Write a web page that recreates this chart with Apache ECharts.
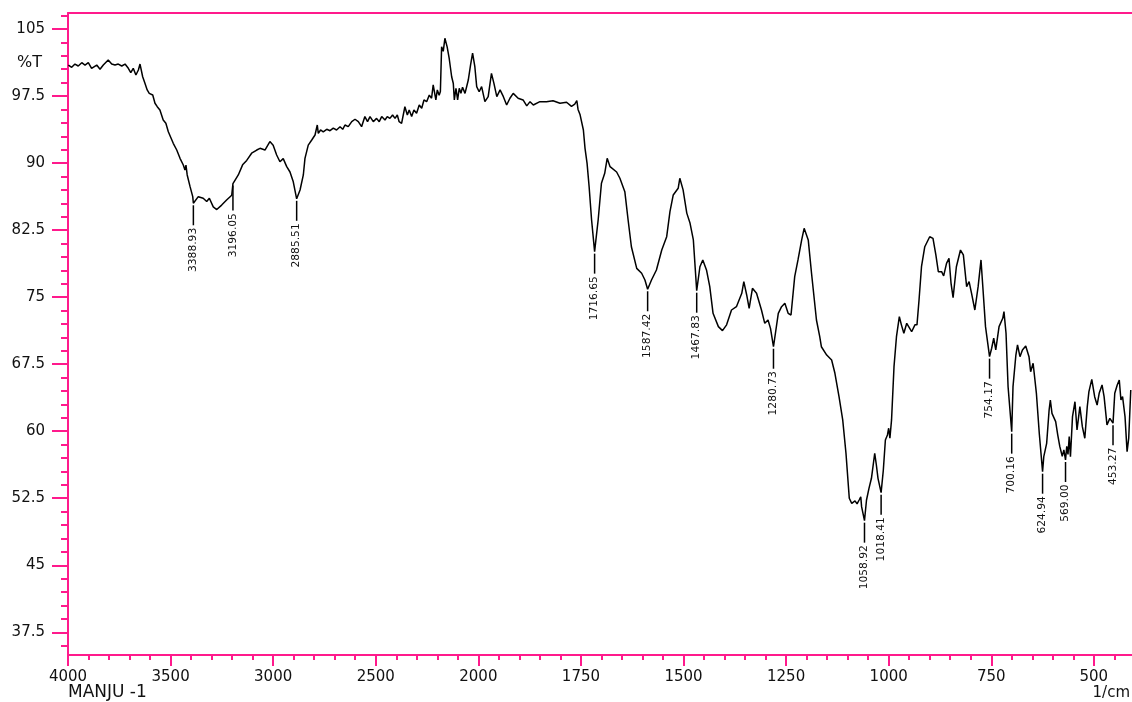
<!DOCTYPE html>
<html>
<head>
<meta charset="utf-8">
<script src="https://cdn.jsdelivr.net/npm/echarts@6/dist/echarts.min.js"></script>
<style>
html, body { margin: 0; padding: 0; background: #fff; }
#chart { width: 1132px; height: 702px; }
</style>
</head>
<body>
<div id="chart"></div>
<script>
// FTIR transmittance spectrum of sample MANJU -1

// Spectrum: wavenumber (1/cm) and %T
const wavenumbers = [
  3998, 3982, 3966, 3950, 3933, 3917, 3901, 3885, 3877, 3860, 3844, 3828, 3804, 3787, 3771, 3755,
  3738, 3722, 3706, 3694, 3682, 3669, 3657, 3649, 3636, 3625, 3614, 3604, 3597, 3587, 3576, 3565,
  3552, 3536, 3523, 3511, 3503, 3487, 3470, 3454, 3438, 3430, 3425, 3419, 3405, 3392, 3388.93, 3365,
  3341, 3324, 3311, 3292, 3275, 3251, 3227, 3202, 3196.05, 3170, 3149, 3129, 3105, 3080, 3064, 3040,
  3016, 3000, 2983, 2967, 2951, 2934, 2918, 2902, 2885.51, 2869, 2853, 2845, 2829, 2812, 2796, 2785,
  2780, 2769, 2756, 2739, 2723, 2707, 2691, 2674, 2661, 2650, 2634, 2617, 2601, 2585, 2569, 2553,
  2540, 2528, 2512, 2496, 2483, 2471, 2455, 2444, 2431, 2418, 2406, 2395, 2386, 2374, 2358, 2346,
  2337, 2325, 2314, 2301, 2288, 2276, 2265, 2252, 2239, 2228, 2220, 2207, 2200, 2191, 2185, 2179,
  2171, 2163, 2152, 2142, 2130, 2122, 2117, 2109, 2101, 2093, 2085, 2077, 2065, 2049, 2038, 2028,
  2017, 2008, 1998, 1992, 1984, 1976, 1968, 1962, 1955, 1947, 1939, 1931, 1923, 1915, 1903, 1891,
  1882, 1874, 1866, 1850, 1834, 1818, 1801, 1785, 1773, 1765, 1760, 1757, 1752, 1744, 1740, 1735,
  1730, 1724, 1716.65, 1708, 1700, 1692, 1686, 1679, 1663, 1655, 1643, 1635, 1627, 1614, 1602, 1594,
  1587.42, 1578, 1566, 1553, 1541, 1533, 1525, 1513, 1509, 1501, 1492, 1484, 1476, 1467.83, 1460, 1453,
  1444, 1436, 1428, 1415, 1405, 1395, 1383, 1371, 1358, 1353, 1346, 1340, 1332, 1322, 1310, 1302,
  1294, 1288, 1280.73, 1269, 1261, 1253, 1245, 1238, 1229, 1221, 1212, 1206, 1196, 1188, 1176, 1168,
  1164, 1151, 1139, 1131, 1121, 1112, 1104, 1096, 1090, 1082, 1077, 1072, 1068, 1066, 1058.92, 1054,
  1048, 1042, 1034, 1030, 1026, 1018.41, 1013, 1008, 1003, 1000, 997, 993, 987, 981, 974, 969,
  963, 956, 952, 944, 936, 931, 926, 920, 912, 900, 892, 885, 879, 871, 866, 859,
  853, 848, 843, 835, 825, 818, 810, 804, 798, 790, 782, 775, 770, 764, 754.17, 749,
  744, 739, 731, 722, 719, 714, 709, 700.16, 697, 690, 686, 680, 674, 666, 658, 654,
  648, 640, 633, 624.94, 622, 615, 609, 606, 602, 593, 588, 583, 577, 573, 569, 566,
  563, 560, 557, 552, 546, 541, 534, 528, 522, 516, 512, 505, 498, 492, 487, 480,
  475, 468, 461, 453.27, 449, 443, 438, 434, 430, 424, 419, 415, 410
];
const transmittance = [
  100.97, 100.71, 101.08, 100.86, 101.23, 100.97, 101.23, 100.6, 100.41, 100.97, 100.49, 100.97, 101.53, 101.08, 100.97, 101.08,
  100.86, 101.08, 100.6, 100.11, 100.6, 99.85, 100.41, 101.08, 99.66, 98.92, 98.18, 97.8, 97.99, 97.62, 96.69, 96.31,
  95.94, 94.82, 94.45, 93.51, 93.33, 92.21, 91.46, 90.53, 89.78, 89.22, 89.78, 88.67, 87.36, 86.24, 85.5, 86.24,
  86.06, 85.7, 86.06, 85.1, 84.8, 85.3, 85.87, 86.4, 87.7, 88.67, 89.8, 90.3, 91.1, 91.46, 91.65, 91.46,
  92.4, 92.0, 90.9, 90.15, 90.5, 89.6, 89.0, 87.9, 86.0, 86.99, 88.67, 90.53, 92.0, 92.58, 93.14, 94.26,
  93.33, 93.7, 93.5, 93.78, 93.62, 93.9, 93.7, 94.07, 93.78, 94.26, 94.07, 94.63, 94.9, 94.63, 94.07, 95.2,
  94.63, 95.2, 94.63, 95.0, 94.63, 95.2, 94.82, 95.2, 95.0, 95.38, 95.0, 95.38, 94.63, 94.45, 96.3, 95.38,
  95.94, 95.2, 95.94, 95.57, 96.5, 96.13, 97.06, 96.87, 97.6, 97.25, 98.74, 97.06, 98.18, 97.6, 98.0, 103.0,
  102.5, 103.96, 103.0, 101.7, 99.66, 98.9, 97.06, 98.37, 97.06, 98.37, 97.8, 98.48, 97.8, 99.29, 100.97, 102.3,
  100.78, 98.55, 97.98, 98.55, 96.87, 97.43, 100.04, 98.92, 97.43, 98.18, 97.43, 96.5, 97.25, 97.8, 97.25, 97.06,
  96.4, 96.87, 96.5, 96.87, 96.87, 96.98, 96.7, 96.8, 96.35, 96.6, 97.0, 96.0, 95.4, 93.7, 91.65, 89.97,
  87.35, 83.63, 80.09, 83.63, 87.74, 88.86, 90.53, 89.6, 89.0, 88.3, 86.8, 83.63, 80.64, 78.22, 77.67, 76.92,
  75.88, 76.92, 78.04, 80.27, 81.76, 84.56, 86.43, 87.18, 88.3, 87.0, 84.4, 83.26, 81.4, 75.72, 78.4, 79.16,
  78.04, 76.17, 73.19, 71.7, 71.25, 71.9, 73.56, 73.93, 75.43, 76.73, 75.24, 73.75, 75.99, 75.43, 73.56, 72.07,
  72.44, 71.5, 69.45, 73.19, 73.93, 74.31, 73.19, 73.0, 77.3, 79.16, 81.4, 82.7, 81.4, 77.67, 72.44, 70.57,
  69.45, 68.52, 67.97, 66.48, 63.86, 61.26, 57.5, 52.5, 51.93, 52.2, 51.86, 52.3, 52.67, 51.56, 49.99, 52.3,
  53.6, 54.73, 57.53, 56.22, 54.73, 53.12, 55.66, 59.02, 59.58, 60.33, 59.21, 61.26, 67.22, 70.57, 72.81, 71.9,
  70.96, 72.07, 72.25, 71.13, 71.9, 71.9, 74.68, 78.4, 80.64, 81.76, 81.57, 79.72, 77.85, 77.85, 77.37, 78.78,
  79.34, 76.55, 74.94, 78.4, 80.27, 79.72, 76.17, 76.73, 75.43, 73.56, 76.17, 79.16, 75.8, 71.7, 68.34, 69.28,
  70.4, 69.09, 71.7, 72.63, 73.38, 70.96, 64.98, 59.95, 64.98, 68.52, 69.65, 68.34, 69.09, 69.53, 68.34, 66.66,
  67.6, 64.24, 59.77, 55.47, 57.15, 58.64, 62.37, 63.49, 62.0, 61.07, 59.6, 58.3, 57.2, 57.9, 56.78, 58.3,
  57.4, 59.4, 57.15, 61.63, 63.3, 60.14, 62.75, 60.51, 59.21, 62.75, 64.42, 65.8, 63.86, 62.93, 64.24, 65.17,
  63.86, 60.7, 61.44, 60.9, 64.24, 65.17, 65.73, 63.49, 63.86, 61.63, 57.71, 59.21, 64.61
];

// Labelled band positions and their %T
const peakWavenumbers = [3388.93, 3196.05, 2885.51, 1716.65, 1587.42, 1467.83, 1280.73, 1058.92, 1018.41, 754.17, 700.16, 624.94, 569.00, 453.27];
const peakTransmittance = [85.5, 87.7, 86.0, 80.09, 75.88, 75.72, 69.45, 49.99, 53.12, 68.34, 59.95, 55.47, 56.78, 60.9];

// Axis ticks
const xMajorTicks = [500, 750, 1000, 1250, 1500, 1750, 2000, 2500, 3000, 3500, 4000];
const yMajorTicks = [37.5, 45, 52.5, 60, 67.5, 75, 82.5, 90, 97.5, 105];

const xMinorTicks = [];
for (let w = 450; w < 2000; w += 50) if (w % 250 !== 0) xMinorTicks.push(w);
for (let w = 2100; w < 4000; w += 100) if (w % 500 !== 0) xMinorTicks.push(w);
const yMinorTicks = [];
for (let k = 24; k <= 71; k++) if (k % 5 !== 0) yMinorTicks.push(k * 1.5);

// Above 2000 1/cm the axis runs at half scale, so it is drawn in a folded coordinate
function fold(wn) { return wn <= 2000 ? wn : 2000 + (wn - 2000) / 2; }
function unfold(u) { return u <= 2000 ? u : 2000 + (u - 2000) * 2; }

const X_MIN = 407, X_MAX = 3000;
const Y_MIN = 34.96, Y_MAX = 106.79;
const PINK = '#ff1a8c';
const FONT = '"DejaVu Sans", Verdana, sans-serif';
const INK = '#111';

// Label stems: the 3196.05 shoulder gets a slightly longer stem
const STEM_TOP = 2, STEM_BOTTOM = 22, TEXT_GAP = 2.5;
const longStem = { '3196.05': 5 };

function xAxisBase(extra) {
  return Object.assign({
    type: 'value', min: X_MIN, max: X_MAX, inverse: true, position: 'bottom',
    axisLine: { show: false, onZero: false },
    axisTick: { show: false },
    axisLabel: { show: false },
    splitLine: { show: false }
  }, extra);
}
function yAxisBase(extra) {
  return Object.assign({
    type: 'value', min: Y_MIN, max: Y_MAX, position: 'left',
    axisLine: { show: false, onZero: false },
    axisTick: { show: false },
    axisLabel: { show: false },
    splitLine: { show: false }
  }, extra);
}

const chart = echarts.init(document.getElementById('chart'), null, { renderer: 'canvas' });

chart.setOption({
  animation: false,
  backgroundColor: '#fff',
  grid: { left: 68, right: 0, top: 13, bottom: 47, containLabel: false, outerBoundsMode: 'none' },
  xAxis: [
    xAxisBase({
      axisLine: { show: true, onZero: false, lineStyle: { color: PINK, width: 2 } },
      axisTick: { show: true, length: 11, lineStyle: { color: PINK, width: 2 }, customValues: xMajorTicks.map(fold) },
      axisLabel: {
        show: true, margin: 15, customValues: xMajorTicks.map(fold),
        formatter: v => String(Math.round(unfold(v))),
        fontFamily: FONT, fontSize: 15, color: INK
      }
    }),
    xAxisBase({
      axisTick: { show: true, length: 5, lineStyle: { color: PINK, width: 2 }, customValues: xMinorTicks.map(fold) }
    }),
    xAxisBase({
      position: 'top',
      axisLine: { show: true, onZero: false, lineStyle: { color: PINK, width: 2 } }
    })
  ],
  yAxis: [
    yAxisBase({
      axisLine: { show: true, onZero: false, lineStyle: { color: PINK, width: 2 } },
      axisTick: { show: true, length: 16, lineStyle: { color: PINK, width: 2 }, customValues: yMajorTicks },
      axisLabel: {
        show: true, margin: 23, customValues: yMajorTicks,
        formatter: v => String(v),
        fontFamily: FONT, fontSize: 15, color: INK
      }
    }),
    yAxisBase({
      axisTick: { show: true, length: 7, lineStyle: { color: PINK, width: 2 }, customValues: yMinorTicks }
    })
  ],
  graphic: [
    { type: 'text', left: 17, top: 55, style: { text: '%T', font: '16px ' + FONT, fill: INK } },
    { type: 'text', left: 68, top: 684, style: { text: 'MANJU -1', font: '17px ' + FONT, fill: INK } },
    { type: 'text', right: 2, top: 686, style: { text: '1/cm', font: '15px ' + FONT, fill: INK } }
  ],
  series: [
    {
      type: 'line',
      xAxisIndex: 0, yAxisIndex: 0,
      data: wavenumbers.map((w, i) => [fold(w), transmittance[i]]),
      symbol: 'none', showSymbol: false,
      lineStyle: { color: '#000', width: 1.5 },
      silent: true, clip: true, z: 2
    },
    {
      type: 'custom',
      xAxisIndex: 0, yAxisIndex: 0,
      data: peakWavenumbers.map((w, i) => [fold(w), peakTransmittance[i], w]),
      clip: false, silent: true, z: 3,
      renderItem(params, api) {
        const p = api.coord([api.value(0), api.value(1)]);
        const label = api.value(2).toFixed(2);
        const extra = longStem[label] || 0;
        const bottom = p[1] + STEM_BOTTOM + extra;
        return {
          type: 'group',
          children: [
            { type: 'line', shape: { x1: p[0], y1: p[1] + STEM_TOP, x2: p[0], y2: bottom }, style: { stroke: '#000', lineWidth: 1.5 } },
            {
              type: 'text', x: p[0], y: bottom + TEXT_GAP, rotation: Math.PI / 2,
              style: { text: label, fill: INK, font: '10.7px ' + FONT, align: 'right', verticalAlign: 'middle' }
            }
          ]
        };
      }
    }
  ]
});
</script>
</body>
</html>
